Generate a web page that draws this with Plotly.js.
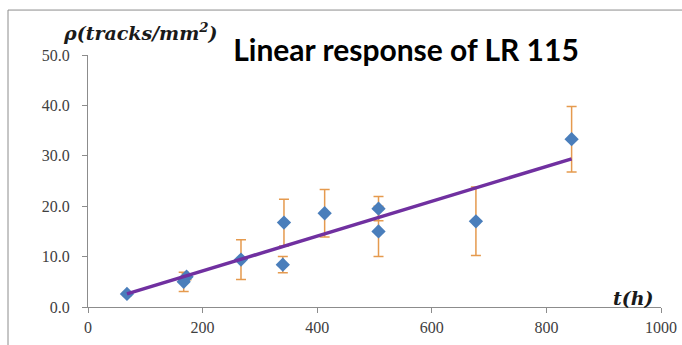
<!DOCTYPE html>
<html>
<head>
<meta charset="utf-8">
<script src="https://cdn.plot.ly/plotly-3.0.1.min.js"></script>
<style>html,body{margin:0;padding:0;background:#fff;}#chart{width:682px;height:345px;}</style>
</head>
<body>
<div id="chart"></div>
<script>
// Exposure time (h)
const timeHours = [68, 167, 172, 267, 340, 342, 413, 507, 507, 677, 844];
// Track density (tracks/mm^2)
const trackDensity = [2.6, 5.0, 6.0, 9.4, 8.4, 16.75, 18.6, 19.5, 15.0, 17.0, 33.3];
// Error bar half-widths
const densityError = [0.3, 1.9, 0.6, 3.95, 1.6, 4.65, 4.7, 2.4, 5.0, 6.8, 6.5];
// Linear trend line end points
const fitTime = [68, 844];
const fitDensity = [2.6, 29.4];

const xTicks = [0, 200, 400, 600, 800, 1000];
const yTicks = [0, 10, 20, 30, 40, 50];

const tickFont = {family: 'Liberation Serif, serif', size: 16, color: '#404040'};
const mathFont = {family: 'DejaVu Serif, serif', size: 19, color: '#1a1a1a'};

const data = [
  {
    x: timeHours, y: trackDensity, type: 'scatter', mode: 'markers',
    marker: {symbol: 'diamond', size: 11, color: '#4A7EBB'},
    error_y: {type: 'data', array: densityError, visible: true, color: '#E59A4E', thickness: 1.5, width: 5},
    showlegend: false, hoverinfo: 'x+y'
  },
  {
    x: fitTime, y: fitDensity, type: 'scatter', mode: 'lines',
    line: {color: '#7030A0', width: 3.5},
    showlegend: false, hoverinfo: 'skip'
  }
];

const layout = {
  width: 682, height: 345,
  margin: {l: 88, r: 21, t: 55, b: 38, pad: 0},
  paper_bgcolor: '#ffffff', plot_bgcolor: '#ffffff',
  title: {
    text: '<b>Linear response of LR 115</b>',
    font: {family: 'Lato, sans-serif', size: 30, color: '#000000'},
    x: 406/682, xanchor: 'center', xref: 'container', y: 1 - 50/345, yanchor: 'middle'
  },
  xaxis: {
    range: [0, 1000], tickvals: xTicks, ticktext: xTicks.map(String),
    showgrid: false, zeroline: false, showline: true, linecolor: '#8c8c8c', linewidth: 1,
    ticks: 'outside', ticklen: 5, tickcolor: '#8c8c8c', tickfont: tickFont, fixedrange: true,
    ticklabelstandoff: 1
  },
  yaxis: {
    range: [0, 50], tickvals: yTicks, ticktext: yTicks.map(v => v.toFixed(1)),
    showgrid: false, zeroline: false, showline: true, linecolor: '#8c8c8c', linewidth: 1,
    ticks: 'outside', ticklen: 5, tickcolor: '#8c8c8c', tickfont: tickFont, fixedrange: true,
    ticklabelstandoff: 9
  },
  annotations: [
    {text: '<b><i>ρ(tracks/mm<sup>2</sup>)</i></b>', xref: 'paper', yref: 'paper',
     x: (140 - 88)/573, y: (307.3 - 32)/252.3, xanchor: 'center', yanchor: 'middle',
     showarrow: false, font: mathFont},
    {text: '<b><i>t(h)</i></b>', xref: 'paper', yref: 'paper',
     x: (633 - 88)/573, y: (307.3 - 298)/252.3, xanchor: 'center', yanchor: 'middle',
     showarrow: false, font: mathFont}
  ],
  shapes: [
    {type: 'rect', xref: 'paper', yref: 'paper',
     x0: (8 - 88)/573, x1: (700 - 88)/573, y0: (307.3 - 360)/252.3, y1: (307.3 - 10)/252.3,
     line: {color: '#8c8c8c', width: 1}, fillcolor: 'rgba(0,0,0,0)', layer: 'below'}
  ]
};

Plotly.newPlot('chart', data, layout, {displayModeBar: false, staticPlot: true});
</script>
</body>
</html>
